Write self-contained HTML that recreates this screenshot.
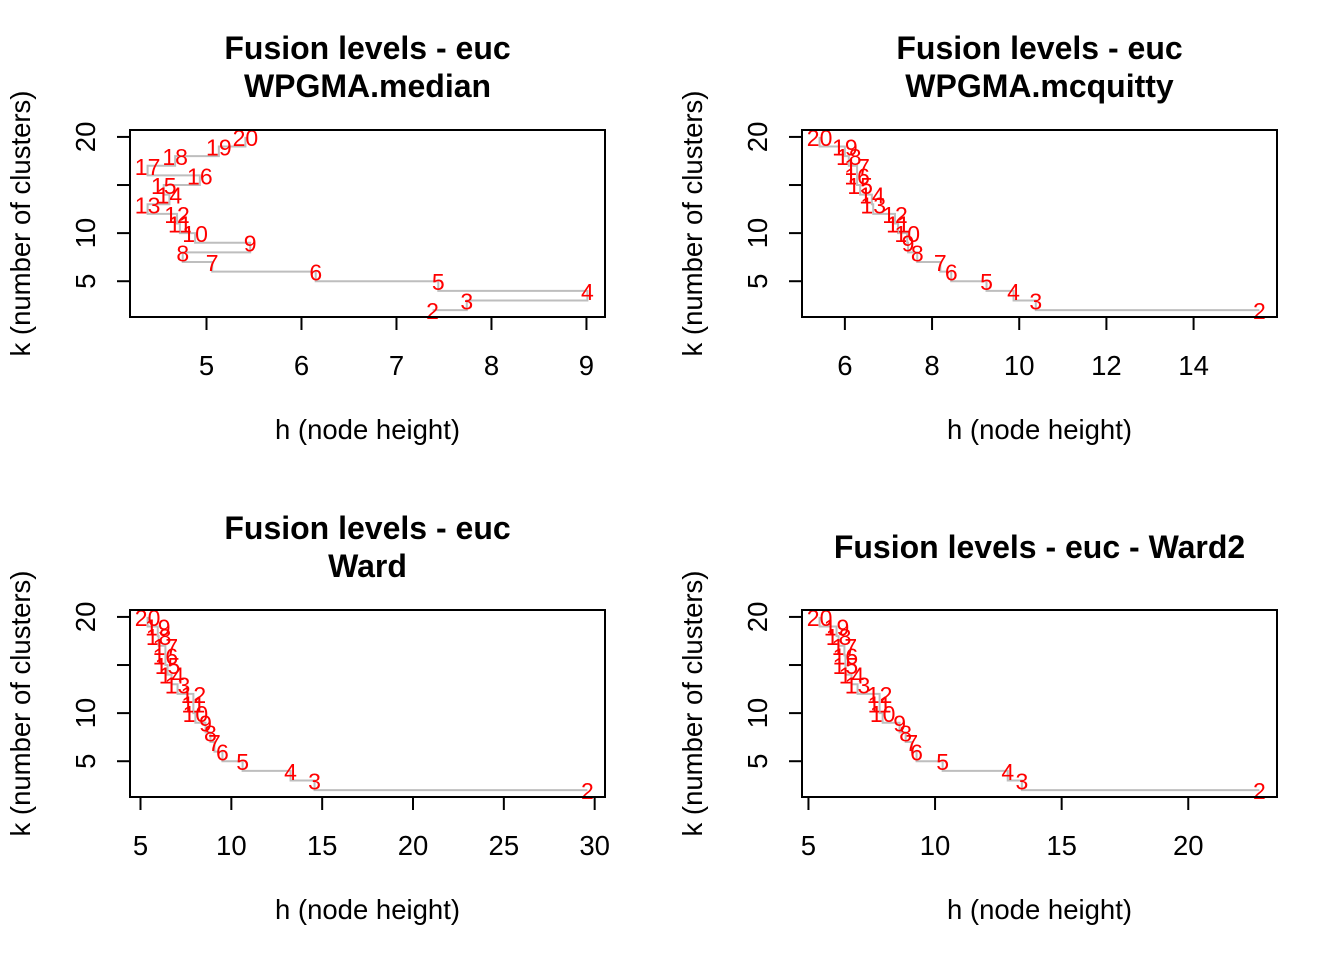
<!DOCTYPE html>
<html><head><meta charset="utf-8"><style>
html,body{margin:0;padding:0;background:#fff;}
svg{display:block;font-family:"Liberation Sans",Arial,sans-serif;}
</style></head><body>
<svg id="chart" width="1344" height="960" viewBox="0 0 1344 960"></svg>
<script>
// k values (number of clusters) shared by all panels
const kValues = [20,19,18,17,16,15,14,13,12,11,10,9,8,7,6,5,4,3,2];
// node heights per panel
const hMedian = [5.41,5.13,4.67,4.38,4.93,4.55,4.61,4.38,4.69,4.72,4.88,5.46,4.75,5.06,6.15,7.44,9.01,7.74,7.38];
const hMcquitty = [5.42,6.0,6.09,6.28,6.28,6.35,6.62,6.65,7.15,7.22,7.43,7.45,7.66,8.19,8.44,9.25,9.87,10.38,15.51];
const hWard = [5.39,5.95,6.0,6.37,6.37,6.49,6.71,7.04,7.91,7.91,8.02,8.58,8.85,9.07,9.51,10.62,13.26,14.58,29.6];
const hWard2 = [5.44,6.11,6.19,6.42,6.46,6.46,6.70,6.94,7.81,7.81,7.93,8.60,8.84,9.08,9.27,10.30,12.87,13.43,22.81];
const xTicks1 = [5,6,7,8,9];
const xTicks2 = [6,8,10,12,14];
const xTicks3 = [5,10,15,20,25,30];
const xTicks4 = [5,10,15,20];
const yTicks = [5,10,15,20];
const yTickLabels = ["5","10","","20"];

const NS = "http://www.w3.org/2000/svg";
const svg = document.getElementById("chart");
function mk(tag, attrs, parent, txt){
  const e = document.createElementNS(NS, tag);
  for (const k in attrs) e.setAttribute(k, attrs[k]);
  if (txt !== undefined) e.textContent = txt;
  (parent||svg).appendChild(e);
  return e;
}

const panels = [
  {x0:130,y0:130,title:["Fusion levels - euc","WPGMA.median"],h:hMedian,ticks:xTicks1,name:"median"},
  {x0:802,y0:130,title:["Fusion levels - euc","WPGMA.mcquitty"],h:hMcquitty,ticks:xTicks2,name:"mcquitty"},
  {x0:130,y0:610,title:["Fusion levels - euc","Ward"],h:hWard,ticks:xTicks3,name:"ward"},
  {x0:802,y0:610,title:["Fusion levels - euc - Ward2"],h:hWard2,ticks:xTicks4,name:"ward2"}
];
const W = 475, H = 187;

panels.forEach(p => {
  const g = mk("g", {});
  
  
  const hmin = Math.min(...p.h), hmax = Math.max(...p.h);
  const hp = (hmax - hmin) * 0.04;
  const xl = hmin - hp, xr = hmax + hp;
  const kmin = Math.min(...kValues), kmax = Math.max(...kValues);
  const kp = (kmax - kmin) * 0.04;
  const yb = kmin - kp, yt = kmax + kp;
  const sx = v => p.x0 + (v - xl) / (xr - xl) * W;
  const sy = v => p.y0 + H - (v - yb) / (yt - yb) * H;

  let d = "M" + sx(p.h[0]) + " " + sy(kValues[0]);
  for (let i = 1; i < kValues.length; i++) {
    d += " L" + sx(p.h[i-1]) + " " + sy(kValues[i]) + " L" + sx(p.h[i]) + " " + sy(kValues[i]);
  }
  const path = mk("path", {d:d, fill:"none", stroke:"#bebebe", "stroke-width":2}, g);
  
  

  kValues.forEach((k, i) => {
    const t = mk("text", {x:sx(p.h[i]), y:sy(k)+9, "text-anchor":"middle", "font-size":23, fill:"#ff0000"}, g, String(k));
    
    
  });

  const box = mk("rect", {x:p.x0, y:p.y0, width:W, height:H, fill:"none", stroke:"#000", "stroke-width":2}, g);
  
  

  const xa = mk("g", {}, g);
  
  
  mk("line", {x1:sx(p.ticks[0]), x2:sx(p.ticks[p.ticks.length-1]), y1:p.y0+H, y2:p.y0+H, stroke:"#000","stroke-width":2}, xa);
  p.ticks.forEach(v => {
    mk("line", {x1:sx(v), x2:sx(v), y1:p.y0+H, y2:p.y0+H+13, stroke:"#000","stroke-width":2}, xa);
    const t = mk("text", {x:sx(v), y:p.y0+H+58, "text-anchor":"middle", "font-size":27.5}, xa, String(v));
    
    
  });
  const ya = mk("g", {}, g);
  
  
  mk("line", {x1:p.x0, x2:p.x0, y1:sy(yTicks[0]), y2:sy(yTicks[yTicks.length-1]), stroke:"#000","stroke-width":2}, ya);
  yTicks.forEach((v, i) => {
    mk("line", {x1:p.x0-13, x2:p.x0, y1:sy(v), y2:sy(v), stroke:"#000","stroke-width":2}, ya);
    if (yTickLabels[i]) {
      const x = p.x0 - 35, y = sy(v);
      const t = mk("text", {x:x, y:y, "text-anchor":"middle", "font-size":27.5, transform:"rotate(-90 "+x+" "+y+")"}, ya, yTickLabels[i]);
      
      
    }
  });
  const cx = p.x0 + W/2, cy = p.y0 + H/2;
  const xt = mk("text", {x:cx, y:p.y0+H+122, "text-anchor":"middle", "font-size":27.5}, g, "h (node height)");
  
  
  const yx = p.x0 - 100;
  const yt2 = mk("text", {x:yx, y:cy, "text-anchor":"middle", "font-size":27.5, transform:"rotate(-90 "+yx+" "+cy+")"}, g, "k (number of clusters)");
  
  
  if (p.title.length === 2) {
    p.title.forEach((s, i) => {
      const t = mk("text", {x:cx, y:p.y0-71+i*38, "text-anchor":"middle", "font-size":32, "font-weight":"bold"}, g, s);
      
      
    });
  } else {
    const t = mk("text", {x:cx, y:p.y0-52, "text-anchor":"middle", "font-size":32, "font-weight":"bold"}, g, p.title[0]);
    
    
  }
});
</script>
</body></html>
